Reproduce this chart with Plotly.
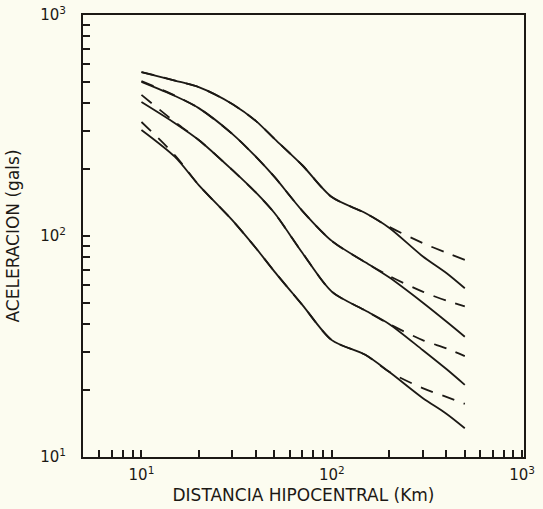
import plotly.graph_objects as go
import numpy as np

# Distances (km)
dist = [10, 15, 20, 30, 40, 50, 70, 100, 150, 200, 300, 400, 500]

# Solid curves (gals)
c1 = [552, 505, 472, 396, 331, 275, 209, 150, 127, 109, 81, 68, 58]
c2 = [498, 430, 379, 290, 228, 185, 130, 95, 76, 65, 50, 41, 35]
c3 = [404, 324, 272, 199, 157, 127, 84, 56, 46, 40, 30.5, 25, 21.2]
c4 = [302, 228, 170, 118, 88, 69, 48.8, 33.8, 29, 24.3, 18.5, 15.7, 13.5]

# Dashed curves (gals)
d1 = [552, 505, 472, 396, 331, 275, 209, 150, 127, 110, 93, 84, 78]
d2 = [502, 432, 379, 290, 228, 185, 130, 95, 76, 66, 56, 51, 48]
d3 = [435, 328, 272, 199, 157, 127, 84, 56, 46, 40, 33.8, 31, 28.6]
d4 = [328, 232, 170, 118, 88, 69, 48.8, 33.8, 29, 24.3, 20.5, 18.7, 17.4]

x_major = [10, 100, 1000]
x_labels = ["10<sup>1</sup>", "10<sup>2</sup>", "10<sup>3</sup>"]
y_major = [10, 100, 1000]
y_labels = ["10<sup>1</sup>", "10<sup>2</sup>", "10<sup>3</sup>"]

x_minor = [m * 10 ** e for e in (0, 1, 2) for m in range(2, 10) if 5 < m * 10 ** e < 1000]
y_minor = [m * 10 ** e for e in (1, 2) for m in range(2, 10)]

ink = "#1c1915"
bg = "#fcfcf0"

fig = go.Figure()
for d in (d1, d2, d3, d4):
    fig.add_trace(go.Scatter(x=dist, y=d, mode="lines",
                             line=dict(color=ink, width=1.8, dash="13px,10px",
                                       shape="spline", smoothing=0.8),
                             showlegend=False, hoverinfo="skip"))
for c in (c1, c2, c3, c4):
    fig.add_trace(go.Scatter(x=dist, y=c, mode="lines",
                             line=dict(color=ink, width=1.8, shape="spline", smoothing=0.8),
                             showlegend=False))

font_fam = "DejaVu Sans, sans-serif"
fig.update_layout(
    width=543, height=509,
    margin=dict(l=83, r=19, t=15, b=52, autoexpand=False),
    paper_bgcolor=bg, plot_bgcolor=bg,
    font=dict(family=font_fam, color=ink, size=15),
    xaxis=dict(
        type="log", range=[np.log10(4.93), 3.01], automargin=False,
        showgrid=False, zeroline=False,
        showline=True, linecolor=ink, linewidth=2, mirror=True,
        ticks="inside", ticklen=7, tickwidth=1.5, tickcolor=ink,
        tickvals=x_major, ticktext=x_labels, ticklabelstandoff=3,
        tickfont=dict(size=15),
        minor=dict(tickvals=x_minor, ticks="inside", ticklen=7, tickwidth=1.5, tickcolor=ink),
        title=dict(text="DISTANCIA HIPOCENTRAL (Km)", font=dict(size=17), standoff=6),
    ),
    yaxis=dict(
        type="log", range=[1, 3], automargin=False,
        showgrid=False, zeroline=False,
        showline=True, linecolor=ink, linewidth=2, mirror=True,
        ticks="inside", ticklen=7, tickwidth=1.5, tickcolor=ink,
        tickvals=y_major, ticktext=y_labels, ticklabelstandoff=12,
        tickfont=dict(size=15),
        minor=dict(tickvals=y_minor, ticks="inside", ticklen=7, tickwidth=1.5, tickcolor=ink),
        title=dict(text="ACELERACION (gals)", font=dict(size=17), standoff=16),
    ),
)

fig.write_html(
    "out.html",
    config={"displayModeBar": False},
    post_script="document.body.style.margin='0';document.body.style.background='%s';" % bg,
)
